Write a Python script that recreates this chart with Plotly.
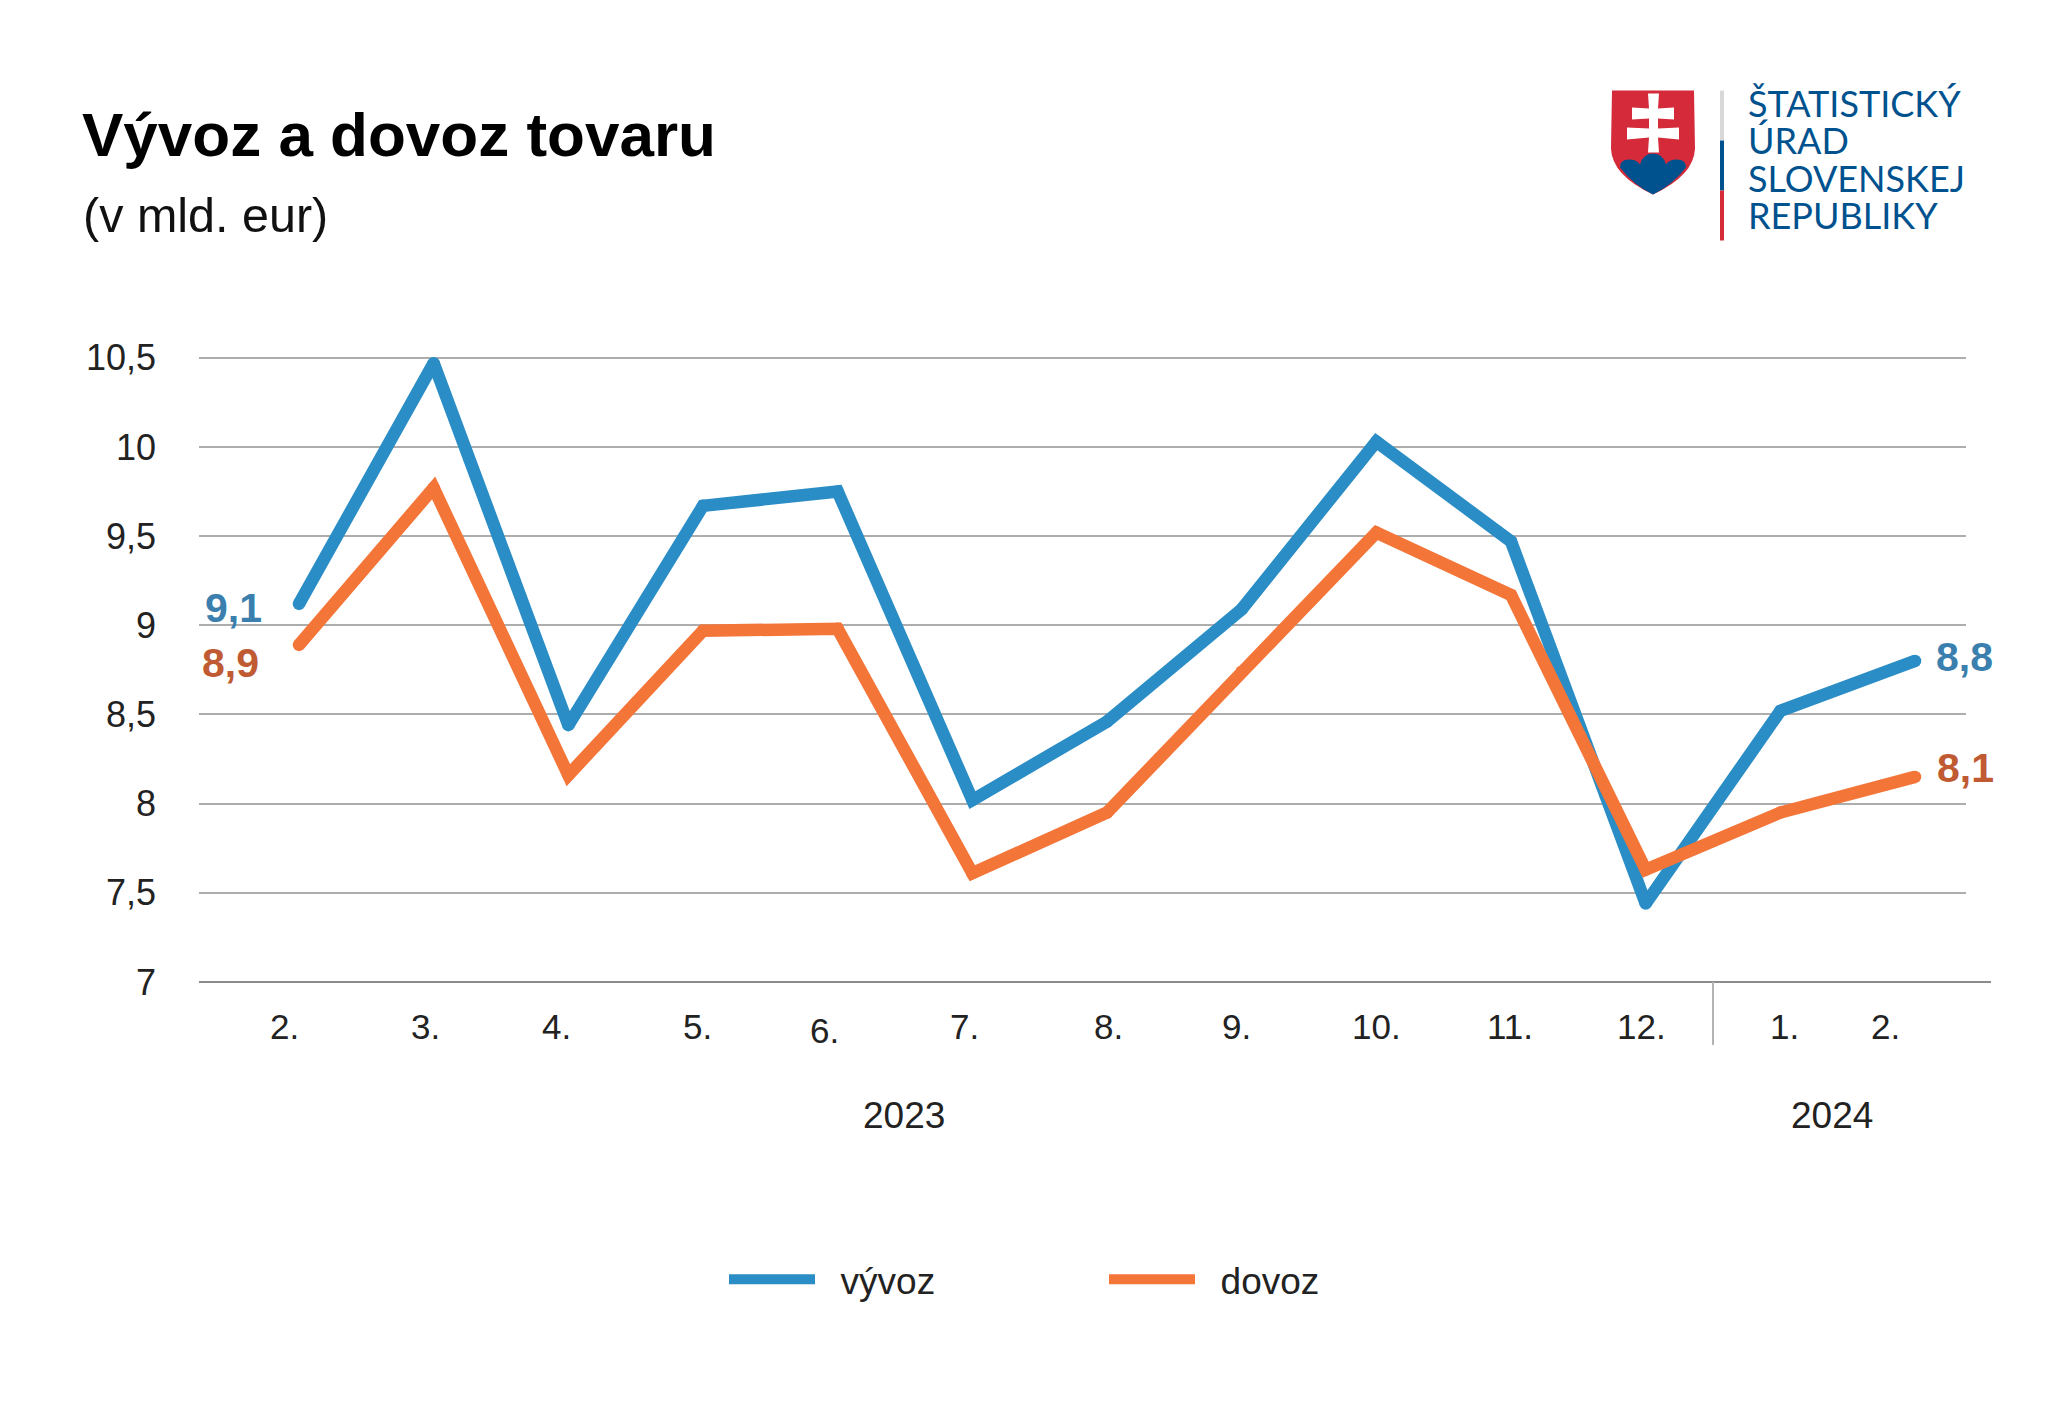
import plotly.graph_objects as go

months = ['2.', '3.', '4.', '5.', '6.', '7.', '8.', '9.', '10.', '11.', '12.', '1.', '2.']
vyvoz = [9.12, 10.47, 8.44, 9.67, 9.75, 8.02, 8.46, 9.09, 10.03, 9.47, 7.44, 8.52, 8.80]
dovoz = [8.89, 9.77, 8.16, 8.97, 8.98, 7.61, 7.95, 8.74, 9.52, 9.17, 7.63, 7.95, 8.15]
y_ticks = [7, 7.5, 8, 8.5, 9, 9.5, 10, 10.5]
y_labels = ['7', '7,5', '8', '8,5', '9', '9,5', '10', '10,5']
logo_lines = ['ŠTATISTICKÝ', 'ÚRAD', 'SLOVENSKEJ', 'REPUBLIKY']

# the page body adds an 8px margin, so the figure is drawn 8px smaller and shifted
PAGE_MARGIN = 8
W, H = 2048 - PAGE_MARGIN, 1413 - PAGE_MARGIN
# top is a bit above the 10,5 line, plotly drops gridlines right on the plot edge
L, R, T, B = 199, 1966, 355.6, 982
FONT = 'Liberation Sans'
BLUE = '#2a8dc5'
ORANGE = '#f47538'
LOGO_BLUE = '#00528f'
LOGO_RED = '#d42a3a'
TEXT = '#222222'

# month labels were hand placed in the original, so they sit off the points
label_offsets = [-0.11, -0.06, -0.09, -0.04, -0.10, -0.06, 0.01, -0.04, 0.0, -0.01, -0.03, 0.03, -0.22]


def px(x):
    return (x - L) / (R - L)


def py(y):
    return (B - y) / (B - T)


def path(points):
    # points in page pixels, strings are svg commands
    out = []
    for p in points:
        if isinstance(p, str):
            out.append(p)
        else:
            out.append(f'{px(p[0]):.5f},{py(p[1]):.5f}')
    return ' '.join(out)


def page_shape(points, color):
    return dict(type='path', xref='paper', yref='paper', path=path(points),
                fillcolor=color, line=dict(width=0), layer='above')


def page_text(x, y, text, size, color=TEXT, bold=False, family=FONT, anchor='left'):
    return dict(xref='paper', yref='paper', x=px(x), y=py(y), text=f'<b>{text}</b>' if bold else text,
                showarrow=False, xanchor=anchor, yanchor='middle', align=anchor,
                font=dict(family=family, size=size, color=color))


idx = list(range(len(months)))
fig = go.Figure()
# nbsp widens the gap between legend line and text
for name, values, color in [('\u00a0\u00a0vývoz', vyvoz, BLUE), ('\u00a0\u00a0dovoz', dovoz, ORANGE)]:
    fig.add_trace(go.Scatter(x=idx, y=values, name=name, mode='lines', cliponaxis=False,
                             line=dict(color=color, width=12.5)))
    # separate dots give the round line ends and keep the legend sample clean
    fig.add_trace(go.Scatter(x=idx, y=values, mode='markers', cliponaxis=False, showlegend=False,
                             hoverinfo='skip', marker=dict(color=color, size=12.5)))

step = 134.67
shapes = [
    # baseline runs past the gridlines
    dict(type='line', xref='paper', yref='paper', x0=0, x1=px(1991), y0=0, y1=0,
         line=dict(color='#8c8c8c', width=2)),
    # year separator
    dict(type='line', xref='paper', yref='paper', x0=px(1713), x1=px(1713), y0=0, y1=py(1045),
         line=dict(color='#b3b3b3', width=2)),
    # white box of the 9,1 label hides the gridline
    dict(type='rect', xref='paper', yref='paper', x0=0, x1=px(281), y0=py(640), y1=py(590),
         fillcolor='white', line=dict(width=0), layer='between'),
    # logo divider
    dict(type='rect', xref='paper', yref='paper', x0=px(1720), x1=px(1724), y0=py(140), y1=py(90),
         fillcolor='#d9d9d9', line=dict(width=0)),
    dict(type='rect', xref='paper', yref='paper', x0=px(1720), x1=px(1724), y0=py(190), y1=py(140),
         fillcolor=LOGO_BLUE, line=dict(width=0)),
    dict(type='rect', xref='paper', yref='paper', x0=px(1720), x1=px(1724), y0=py(240), y1=py(190),
         fillcolor=LOGO_RED, line=dict(width=0)),
    # shield
    page_shape(['M', (1612, 90), 'L', (1694, 90), 'L', (1695, 148), 'Q', (1694, 175), (1653, 194),
                'Q', (1612, 175), (1611, 148), 'Z'], LOGO_RED),
    page_shape(['M', (1620, 167), 'Q', (1620, 159), (1629, 159), 'Q', (1637, 159), (1640, 164),
                'Q', (1643, 153), (1653, 153), 'Q', (1663, 153), (1666, 164),
                'Q', (1669, 159), (1677, 159), 'Q', (1686, 159), (1686, 167),
                'Q', (1672, 185), (1653, 194), 'Q', (1634, 185), (1620, 167), 'Z'], LOGO_BLUE),
    page_shape(['M', (1648, 93), 'L', (1659, 93), 'L', (1658, 108), 'L', (1674, 107), 'L', (1674, 119),
                'L', (1658, 118), 'L', (1658, 128), 'L', (1679, 127), 'L', (1679, 139), 'L', (1658, 137),
                'L', (1659, 152), 'L', (1648, 152), 'L', (1649, 137), 'L', (1627, 139), 'L', (1627, 127),
                'L', (1649, 128), 'L', (1649, 118), 'L', (1632, 119), 'L', (1632, 107), 'L', (1649, 108), 'Z'],
               'white'),
]

annotations = [
    page_text(80, 134, 'Vývoz a dovoz tovaru', 62, color='#000000', bold=True),
    page_text(81, 215, '(v mld. eur)', 48.5, color='#111111'),
    page_text(904, 1116, '2023', 37, anchor='center'),
    page_text(1832, 1116, '2024', 37, anchor='center'),
    page_text(233, 608, '9,1', 41, color='#3a7fae', bold=True, anchor='center'),
    page_text(230, 663, '8,9', 41, color='#c05a33', bold=True, anchor='center'),
    page_text(1964, 657, '8,8', 41, color='#3a7fae', bold=True, anchor='center'),
    page_text(1965, 768, '8,1', 41, color='#c05a33', bold=True, anchor='center'),
]
for i, line in enumerate(logo_lines):
    annotations.append(page_text(1746, 102 + i * 37.5, line, 36, color=LOGO_BLUE, family='Lato'))
for i, m in enumerate(months):
    annotations.append(dict(x=i + label_offsets[i], xref='x', y=0, yref='paper', text=m, showarrow=False,
                            xanchor='center', yanchor='middle', yshift=-44 - (4 if m == '6.' else 0),
                            font=dict(family=FONT, size=35, color=TEXT)))

fig.update_layout(
    width=W, height=H,
    margin=dict(l=L - PAGE_MARGIN, r=W + PAGE_MARGIN - R, t=T - PAGE_MARGIN, b=H + PAGE_MARGIN - B, pad=0),
    paper_bgcolor='white', plot_bgcolor='white',
    font=dict(family=FONT, size=36, color=TEXT),
    showlegend=True,
    legend=dict(orientation='h', x=px(724), y=py(1280), xanchor='left', yanchor='middle',
                itemwidth=86, entrywidth=279, entrywidthmode='pixels',
                font=dict(family=FONT, size=37, color=TEXT)),
    shapes=shapes, annotations=annotations,
    xaxis=dict(range=[(L - 299) / step, (R - 299) / step], showgrid=False, zeroline=False,
               showline=False, showticklabels=False, ticks=''),
    yaxis=dict(range=[7, 10.51], tickvals=y_ticks, ticktext=y_labels, showgrid=True,
               gridcolor='#adadad', gridwidth=1.5, zeroline=False, showline=False,
               ticks='', ticklabelstandoff=42),
)

fig.write_html("out.html")
